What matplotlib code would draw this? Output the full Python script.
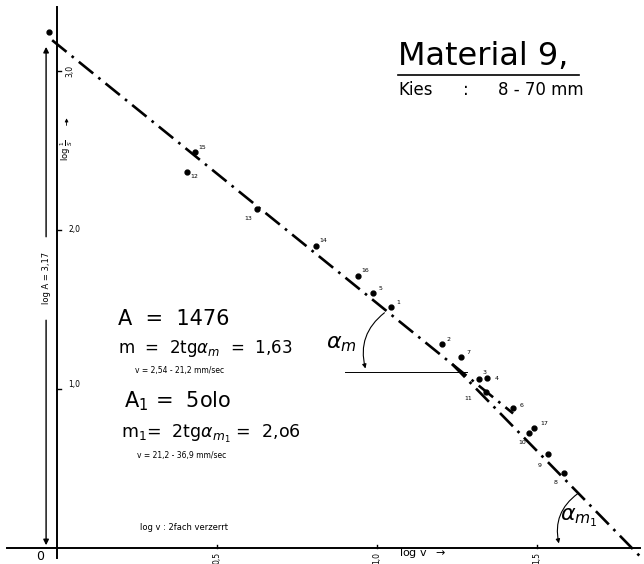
"""Material 9 -- log(1/S) over log v with two fitted straight lines (hand drawing)."""
import numpy as np
import matplotlib
matplotlib.use("Agg")
import matplotlib.pyplot as plt

point_ids = ["", "15", "12", "13", "14", "16", "5", "1", "2", "7",
             "3", "4", "11", "6", "17", "10", "9", "8"]
log_v = [-0.025, 0.431, 0.406, 0.625, 0.809, 0.941, 0.988, 1.044, 1.203, 1.263,
         1.319, 1.344, 1.341, 1.425, 1.491, 1.475, 1.534, 1.584]
log_s = [3.245, 2.491, 2.365, 2.132, 1.899, 1.711, 1.604, 1.516, 1.283, 1.201,
         1.063, 1.069, 0.981, 0.881, 0.755, 0.723, 0.591, 0.472]

# --- fitted lines: log(1/S) = log A - m * log v ---------------------------
A, m = 1476, 1.63
A1, m1 = 5010, 2.06
line1_range = [-0.015, 1.425]
line2_end = 1.83

x_ticks = [0.5, 1.0, 1.5]
x_tick_labels = ["0,5", "1,0", "1,5"]
y_ticks = [1.0, 2.0, 3.0]
y_tick_labels = ["1,0", "2,0", "3,0"]

# label offsets (points) for the point numbers
lab_off = [(0, 0), (5, 3), (5, -3), (-6, -7), (5, 4), (5, 4), (5, 3), (5, 3), (5, 3),
           (5, 3), (4, 5), (7, 0), (-13, -5), (6, 2), (7, 3), (-5, -7), (-6, -8), (-6, -7)]

plt.rcParams.update({"font.family": "DejaVu Sans"})
fig = plt.figure(figsize=(6.44, 5.64), dpi=100)
ax = fig.add_axes([0, 0, 1, 1])
ax.set_xlim(-0.178, 1.834)
ax.set_ylim(-0.1006, 3.4465)
ax.axis("off")

# axes
ax.plot([-0.155, 1.82], [0, 0], color="k", lw=1.4)
ax.plot([0, 0], [-0.06, 3.40], color="k", lw=1.4)
for t in x_ticks:
    ax.plot([t, t], [0, 0.02], color="k", lw=1)
for t in y_ticks:
    ax.plot([0, 0.012], [t, t], color="k", lw=1)
for t, lab in zip(x_ticks, x_tick_labels):
    ax.text(t, -0.062, lab, rotation=90, ha="center", va="center", fontsize=5.5)
ax.text(-0.053, -0.052, "0", ha="center", va="center", fontsize=9)
ax.text(0.035, 2.0, y_tick_labels[1], ha="left", va="center", fontsize=5.5)
ax.text(0.035, 1.03, y_tick_labels[0], ha="left", va="center", fontsize=5.5)
ax.text(0.04, 3.0, y_tick_labels[2], rotation=90, ha="center", va="center", fontsize=5.5)
ax.text(0.03, 2.5, r"log $\frac{1}{S}$", rotation=90, ha="center", va="center", fontsize=6)
ax.annotate("", xy=(0.03, 2.72), xytext=(0.03, 2.64),
            arrowprops=dict(arrowstyle="-|>", color="k", lw=0.6, mutation_scale=5))
ax.text(1.07, -0.03, r"log v  $\rightarrow$", ha="left", va="center", fontsize=8)
ax.text(0.26, 0.113, "log v : 2fach verzerrt", ha="left", va="baseline", fontsize=6)

# left double arrow: log A
xa = -0.034
ax.annotate("", xy=(xa, np.log10(A)), xytext=(xa, 1.94),
            arrowprops=dict(arrowstyle="-|>", color="k", lw=1.0, mutation_scale=8))
ax.annotate("", xy=(xa, 0), xytext=(xa, 1.45),
            arrowprops=dict(arrowstyle="-|>", color="k", lw=1.0, mutation_scale=8))
ax.text(xa, 1.70, "log A = 3,17", rotation=90, ha="center", va="center", fontsize=6)

# fitted lines
x1 = np.array(line1_range)
ax.plot(x1, np.log10(A) - m * x1, color="k", lw=1.9, dashes=(7, 2.5, 1, 2.5))
xs = (np.log10(A1) - np.log10(A)) / (m1 - m)
x2 = np.array([xs, line2_end])
ax.plot(x2, np.log10(A1) - m1 * x2, color="k", lw=1.9, dashes=(7, 2.5, 1, 2.5))

# points
ax.plot(log_v, log_s, "o", color="k", ms=3.5)
for pid, xv, yv, off in zip(point_ids, log_v, log_s, lab_off):
    if pid:
        ax.annotate(pid, (xv, yv), xytext=off, textcoords="offset points",
                    fontsize=4.5, ha="center", va="center")

# angle alpha_m
ax.plot([0.90, 1.28], [1.107, 1.107], color="k", lw=0.7)
ax.annotate("", xy=(0.966, 1.112), xytext=(1.03, 1.49),
            arrowprops=dict(arrowstyle="-|>", color="k", lw=0.8, mutation_scale=6,
                            connectionstyle="arc3,rad=0.35"))
ax.text(0.89, 1.28, r"$\alpha_m$", ha="center", va="center", fontsize=16)

# angle alpha_m1
ax.annotate("", xy=(1.57, 0.012), xytext=(1.634, 0.352),
            arrowprops=dict(arrowstyle="-|>", color="k", lw=0.8, mutation_scale=6,
                            connectionstyle="arc3,rad=0.35"))
ax.text(1.63, 0.19, r"$\alpha_{m_1}$", ha="center", va="center", fontsize=16)

# title block
ax.text(1.066, 3.04, "Material 9,", ha="left", va="baseline", fontsize=23)
ax.plot([1.066, 1.63], [2.975, 2.975], color="k", lw=1.2)
ax.text(1.066, 2.85, "Kies", ha="left", va="baseline", fontsize=12)
ax.text(1.27, 2.85, ":", ha="left", va="baseline", fontsize=12)
ax.text(1.378, 2.85, "8 - 70 mm", ha="left", va="baseline", fontsize=12)

# parameters
ax.text(0.19, 1.403, "A  =  1476", ha="left", va="baseline", fontsize=15)
ax.text(0.19, 1.226, r"m  =  2tg$\alpha_m$  =  1,63", ha="left", va="baseline", fontsize=12)
ax.text(0.245, 1.10, "v = 2,54 - 21,2 mm/sec", ha="left", va="baseline", fontsize=5.5)
ax.text(0.21, 0.887, r"A$_1$ =  5olo", ha="left", va="baseline", fontsize=15)
ax.text(0.2, 0.692, r"m$_1$=  2tg$\alpha_{m_1}$ =  2,o6", ha="left", va="baseline", fontsize=12.5)
ax.text(0.25, 0.566, "v = 21,2 - 36,9 mm/sec", ha="left", va="baseline", fontsize=5.5)

fig.savefig("out.png", dpi=100)
